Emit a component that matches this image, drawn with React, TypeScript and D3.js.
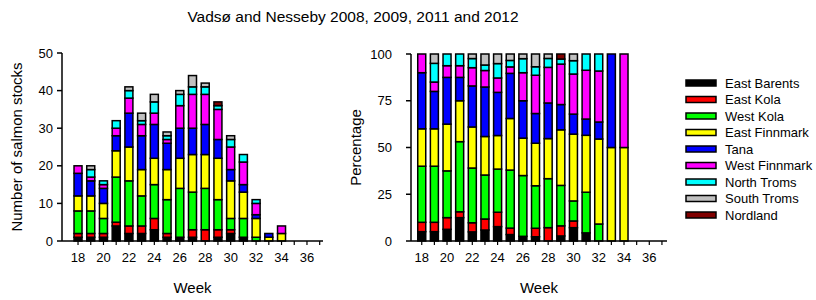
import React from 'react';
import * as d3 from 'd3';

// weeks and stock groups
const weeks = [18, 19, 20, 21, 22, 23, 24, 25, 26, 27, 28, 29, 30, 31, 32, 33, 34];
const stocks = ['East Barents', 'East Kola', 'West Kola', 'East Finnmark', 'Tana', 'West Finnmark', 'North Troms', 'South Troms', 'Nordland'];
const colors = ['#000000', '#ff0000', '#00ff00', '#ffff00', '#0000ff', '#ff00ff', '#00ffff', '#c0c0c0', '#800000'];

// number of salmon stocks per week
const eastBarents = [1, 1, 1, 4, 2, 2, 3, 1, 1, 1, 0, 1, 2, 1, 0, 0, 0];
const eastKola = [1, 1, 1, 1, 2, 2, 3, 1, 0, 2, 3, 2, 1, 0, 0, 0, 0];
const westKola = [6, 6, 4, 12, 12, 8, 9, 9, 13, 10, 11, 8, 3, 5, 1, 0, 0];
const eastFinnmark = [4, 4, 4, 7, 9, 7, 7, 8, 8, 10, 9, 11, 10, 7, 5, 1, 2];
const tana = [6, 4, 4, 4, 9, 9, 9, 7, 8, 7, 8, 5, 3, 2, 1, 1, 0];
const westFinnmark = [2, 1, 1, 2, 4, 3, 3, 1, 6, 9, 8, 8, 6, 6, 3, 0, 2];
const northTroms = [0, 2, 1, 2, 2, 1, 3, 1, 3, 2, 2, 1, 2, 2, 1, 0, 0];
const southTroms = [0, 1, 0, 0, 1, 2, 2, 1, 1, 3, 1, 0, 1, 0, 0, 0, 0];
const nordland = [0, 0, 0, 0, 0, 0, 0, 0, 0, 0, 0, 1, 0, 0, 0, 0, 0];

const yTicksLeft = [0, 10, 20, 30, 40, 50];
const yTicksRight = [0, 25, 50, 75, 100];
const xLabelWeeks = [18, 20, 22, 24, 26, 28, 30, 32, 34, 36];
const xTickWeeks = d3.range(18, 38);

const font = 'Liberation Sans, Arial, sans-serif';

const series = [eastBarents, eastKola, westKola, eastFinnmark, tana, westFinnmark, northTroms, southTroms, nordland];
const rows = weeks.map((w, i) => {
	const r: any = { week: w };
	stocks.forEach((s, j) => (r[s] = series[j][i]));
	return r;
});
// percentage of stocks each week
const pctRows = rows.map((r) => {
	const tot = d3.sum(stocks, (s) => r[s]);
	const o: any = { week: r.week };
	stocks.forEach((s) => (o[s] = (r[s] / tot) * 100));
	return o;
});
const stackGen = d3.stack().keys(stocks);
const countStack = stackGen(rows);
const pctStack = stackGen(pctRows);

interface PanelProps {
	stack: any[];
	x: d3.ScaleLinear<number, number>;
	y: d3.ScaleLinear<number, number>;
	yTicks: number[];
	labelRight: number;
	yLabel: string;
	yLabelX: number;
}

const Panel: React.FC<PanelProps> = ({ stack, x, y, yTicks, labelRight, yLabel, yLabelX }) => {
	const [x0, x1] = x.range();
	const [yb, yt] = y.range();
	const bw = 8;
	const yMid = (yb + yt) / 2;
	return (
		<g>
			{stack.map((layer, li) =>
				layer.map((d: any, i: number) => {
					const h = y(d[0]) - y(d[1]);
					if (h <= 0.01) return null;
					return (
						<rect
							key={li + '-' + i}
							x={x(weeks[i]) - bw / 2}
							y={y(d[1])}
							width={bw}
							height={h}
							fill={colors[li]}
							stroke="#000"
							strokeWidth={1.5}
						/>
					);
				})
			)}
			<line x1={x0} x2={x1} y1={yb} y2={yb} stroke="#000" strokeWidth={1.5} />
			<line x1={x0} x2={x0} y1={yb} y2={yt} stroke="#000" strokeWidth={1.5} />
			{yTicks.map((t) => (
				<g key={t}>
					<line x1={x0 - 5} x2={x0} y1={y(t)} y2={y(t)} stroke="#000" strokeWidth={1.5} />
					<text x={labelRight} y={y(t)} dy="0.35em" textAnchor="end" fontSize={13} fontFamily={font}>
						{t}
					</text>
				</g>
			))}
			{xTickWeeks.map((w) => (
				<line key={w} x1={x(w)} x2={x(w)} y1={yb} y2={yb + 4} stroke="#000" strokeWidth={1.2} />
			))}
			{xLabelWeeks.map((w) => (
				<text key={w} x={x(w)} y={yb + 21} textAnchor="middle" fontSize={13} fontFamily={font}>
					{w}
				</text>
			))}
			<text x={(x0 + x1) / 2} y={yb + 52} textAnchor="middle" fontSize={15} fontFamily={font}>
				Week
			</text>
			<text
				transform={`translate(${yLabelX},${yMid}) rotate(-90)`}
				textAnchor="middle"
				fontSize={15}
				fontFamily={font}
			>
				{yLabel}
			</text>
		</g>
	);
};

const App: React.FC = () => {
	const width = 816;
	const height = 300;

	const xLeft = d3.scaleLinear().domain([16.74, 37.26]).range([62, 323]);
	const yLeft = d3.scaleLinear().domain([0, 50]).range([241, 53]);
	const xRight = d3.scaleLinear().domain([17.15, 37.4]).range([411, 667]);
	const yRight = d3.scaleLinear().domain([0, 100]).range([241, 54]);

	return (
		<svg width={width} height={height} style={{ position: 'absolute', left: 0, top: 0 }}>
			<rect width={width} height={height} fill="#fff" />
			<text x={353} y={22} textAnchor="middle" fontSize={15.5} fontFamily={font}>
				Vadsø and Nesseby 2008, 2009, 2011 and 2012
			</text>
			<Panel stack={countStack} x={xLeft} y={yLeft} yTicks={yTicksLeft} labelRight={53} yLabel="Number of salmon stocks" yLabelX={22} />
			<Panel stack={pctStack} x={xRight} y={yRight} yTicks={yTicksRight} labelRight={392} yLabel="Percentage" yLabelX={361} />
			<g>
				{stocks.map((s, i) => (
					<g key={s} transform={`translate(686,${83 + i * 16.5})`}>
						<rect x={0} y={-3} width={30} height={6} fill={colors[i]} stroke="#000" strokeWidth={1.5} />
						<text x={39} y={0} dy="0.35em" fontSize={13} fontFamily={font}>
							{s}
						</text>
					</g>
				))}
			</g>
		</svg>
	);
};

export default App;
